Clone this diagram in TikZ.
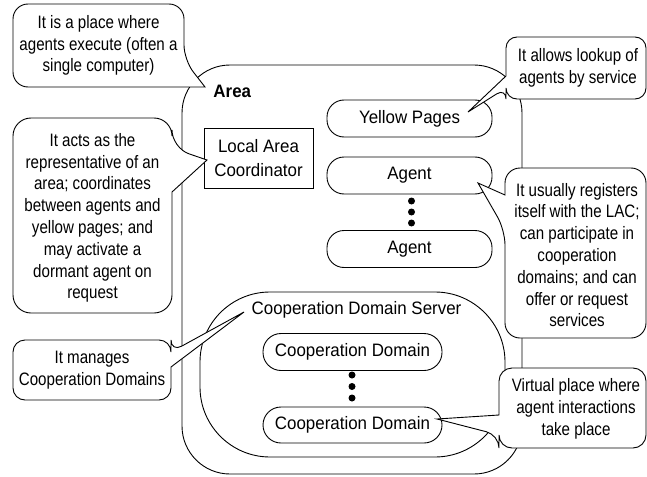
\documentclass[tikz,border=0pt]{standalone}
\usepackage{fontspec}
\setmainfont{Liberation Sans}
\newfontfamily\cfont[FakeStretch=0.84]{Liberation Sans}
\newfontfamily\lfont[FakeStretch=0.94]{Liberation Sans}
\begin{document}
\begin{tikzpicture}[x=1pt,y=-1pt,line width=0.9pt,
  ctext/.style={font=\cfont\fontsize{18}{21.8}\selectfont, align=center, inner sep=0pt},
  ltext/.style={font=\lfont\fontsize{18}{24}\selectfont, align=center, inner sep=0pt},
  capsule/.style={draw, rounded corners=17pt, minimum width=165pt, minimum height=37pt, inner sep=0pt, font=\lfont\fontsize{18}{24}\selectfont},
  cdcaps/.style={draw, rounded corners=18pt, minimum width=179pt, minimum height=37pt, inner sep=0pt, font=\lfont\fontsize{18}{24}\selectfont},
  cbox/.style={draw, fill=white},
  dot/.style={circle, fill=black, inner sep=0pt, minimum size=7pt}]
\useasboundingbox (0,0) rectangle (647,476);

% Area
\node[draw, rounded corners=48pt, minimum width=340pt, minimum height=409pt, inner sep=0pt] (area) at (352,269.5) {};
\node[font=\lfont\bfseries\fontsize{18}{24}\selectfont, inner sep=0pt, anchor=west] (arealbl) at (213,91) {Area};

% Local Area Coordinator
\node[draw, ltext, minimum width=109pt, minimum height=60pt] (lac) at (258.5,158) {Local Area\\Coordinator};

% Yellow pages and agents
\node[capsule] (yp) at (409.5,118.5) {Yellow Pages};
\node[capsule] (ag1) at (409.5,175.5) {Agent};
\node[capsule] (ag2) at (409.5,249) {Agent};
\node[dot] (d1) at (411.5,201) {};
\node[dot] (d2) at (411.5,212) {};
\node[dot] (d3) at (411.5,223) {};

% Cooperation domain server
\node[draw, rounded corners=70pt, minimum width=305pt, minimum height=165pt, inner sep=0pt] (cds) at (352.5,374.5) {};
\node[ltext] (cdslbl) at (356.5,310) {Cooperation Domain Server};
\node[cdcaps] (cd1) at (352.5,352) {Cooperation Domain};
\node[cdcaps, minimum height=36pt] (cd2) at (352.5,425) {Cooperation Domain};
\node[dot] (e1) at (352,375) {};
\node[dot] (e2) at (352,386.5) {};
\node[dot] (e3) at (352,398) {};

% callout tips
\coordinate (t1) at (205,87);
\coordinate (t2) at (207,160);
\coordinate (t3) at (244,312);
\coordinate (t4) at (468,112);
\coordinate (t5) at (478,183);
\coordinate (t6) at (437,419);

% callouts
\draw[cbox] (174,87) [rounded corners=15pt] -- (13,87) -- (13,4) -- (184,4) -- (184,60) [sharp corners] -- (t1) -- cycle;
\draw[cbox] (172,192) [rounded corners=18pt] -- (172,313) -- (13,313) -- (13,118) -- (172,118) -- (172,148) [sharp corners] -- (t2) -- cycle;
\draw[cbox] (171,367) [rounded corners=12pt] -- (171,400) -- (13,400) -- (13,340) -- (171,340) -- (171,352) [sharp corners] -- (t3) -- cycle;
\draw[cbox] (506,76) [rounded corners=11pt] -- (506,37) -- (646,37) -- (646,99) -- (506,99) -- (506,88) [sharp corners] -- (t4) -- cycle;
\draw[cbox] (505,195) [rounded corners=15pt] -- (505,168) -- (646,168) -- (646,338) -- (505,338) -- (505,230) [sharp corners] -- (t5) -- cycle;
\draw[cbox] (499,415) [rounded corners=13pt] -- (499,368) -- (646,368) -- (646,448) -- (499,448) -- (499,435) [sharp corners] -- (t6) -- cycle;

\node[ctext] (c1) at (98.5,45.5) {It is a place where\\agents execute (often a\\single computer)};
\node[ctext] (c2) at (92.5,218) {It acts as the\\representative of an\\area; coordinates\\between agents and\\yellow pages; and\\may activate a\\dormant agent on\\request};
\node[ctext] (c3) at (92,370.5) {It manages\\Cooperation Domains};
\node[ctext] (c4) at (578,68) {It allows lookup of\\agents by service};
\node[ctext] (c5) at (577,255) {It usually registers\\itself with the LAC;\\can participate in\\cooperation\\domains; and can\\offer or request\\services};
\node[ctext] (c6) at (576,409) {Virtual place where\\agent interactions\\take place};
\end{tikzpicture}
\end{document}
